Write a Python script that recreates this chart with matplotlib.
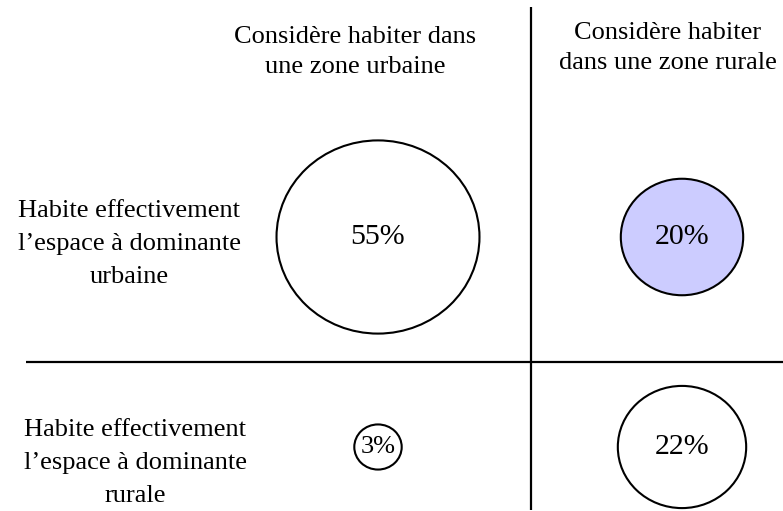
import matplotlib.pyplot as plt
from matplotlib.patches import Ellipse
import numpy as np

# data
col_labels = ["Considère habiter dans\nune zone urbaine", "Considère habiter\ndans une zone rurale"]
row_labels = ["Habite effectivement\nl\u2019espace à dominante\nurbaine",
              "Habite effectivement\nl\u2019espace à dominante\nrurale"]
shares = [[55, 20],
          [3, 22]]
highlight = [[False, True],
             [False, False]]

plt.rcParams['font.family'] = ['Liberation Serif', 'DejaVu Serif']

fig = plt.figure(figsize=(7.83, 5.11), dpi=100)
ax = fig.add_axes([0, 0, 1, 1])
ax.set_xlim(0, 783)
ax.set_ylim(511, 0)
ax.set_aspect('equal')
ax.axis('off')

# layout (pixels)
col_x = [378, 682]
row_y = [237, 447]
header_x = [355, 668]
header_y = [52, 48]
label_x = [129, 135]
label_y = [244, 463]
k = 13.35  # radius per sqrt(percent)
stretch = 1.025

# grid lines
ax.plot([531, 531], [7, 510], color='black', lw=1.6, solid_capstyle='butt')
ax.plot([26, 783], [362, 362], color='black', lw=1.6, solid_capstyle='butt')

for j, t in enumerate(col_labels):
    ax.text(header_x[j], header_y[j], t, ha='center', va='center', fontsize=19, linespacing=1.5)

for i, t in enumerate(row_labels):
    ax.text(label_x[i], label_y[i], t, ha='center', va='center', fontsize=19, linespacing=1.65)

for i in range(2):
    for j in range(2):
        v = shares[i][j]
        r = k * np.sqrt(v)
        fc = '#ccccff' if highlight[i][j] else 'white'
        e = Ellipse((col_x[j], row_y[i]), 2 * r * stretch, 2 * r / stretch,
                    facecolor=fc, edgecolor='black', lw=1.5)
        ax.add_patch(e)
        fs = 21.5 if v >= 10 else 19
        ax.text(col_x[j], row_y[i], "{}%".format(v), ha='center', va='center', fontsize=fs)

plt.savefig('out.png', dpi=100)
